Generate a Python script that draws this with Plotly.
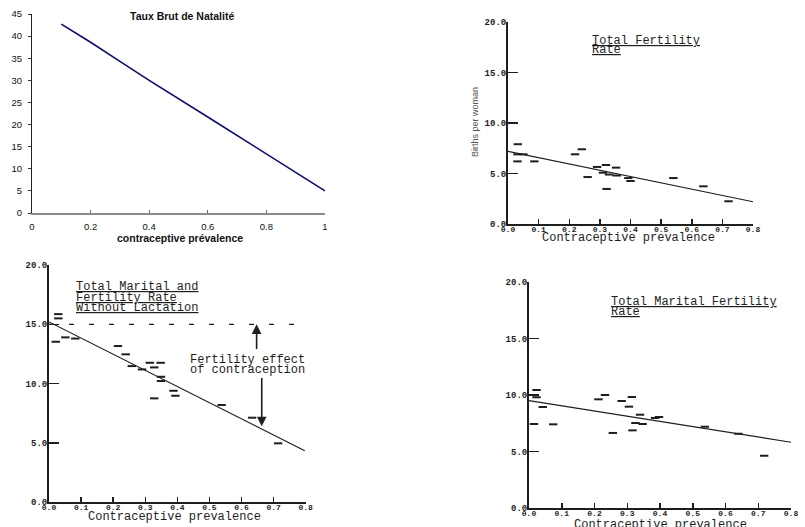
import plotly.graph_objects as go

W, H = 805, 527

# ---------------- DATA ----------------
# Top-left: Taux Brut de Natalité (line)
tbn_prevalence = [0.1, 0.2, 0.3, 0.4, 0.6, 0.8, 1.0]
tbn_rate = [42.7, 38.6, 34.3, 30.0, 21.7, 13.4, 5.0]

# Top-right: Total Fertility Rate
tfr_prev = [0.032, 0.031, 0.05, 0.031, 0.086, 0.219, 0.241, 0.26, 0.291, 0.32,
            0.31, 0.33, 0.353, 0.355, 0.322, 0.393, 0.40, 0.54, 0.638, 0.72]
tfr_val = [7.9, 6.9, 6.9, 6.2, 6.2, 6.9, 7.4, 4.65, 5.65, 5.84,
           5.08, 4.9, 5.58, 4.8, 3.47, 4.55, 4.26, 4.55, 3.73, 2.25]
tfr_fit_x = [0.0, 0.8]
tfr_fit_y = [7.2, 2.2]

# Bottom-left: Total Marital Fertility Rate without lactation
tmfl_prev = [0.029, 0.029, 0.021, 0.051, 0.082, 0.215, 0.239, 0.258, 0.29, 0.314,
             0.328, 0.348, 0.349, 0.349, 0.328, 0.388, 0.394, 0.538, 0.633, 0.714]
tmfl_val = [15.86, 15.5, 13.53, 13.9, 13.8, 13.17, 12.47, 11.48, 11.2, 11.76,
            11.37, 11.76, 10.58, 10.22, 8.76, 9.4, 8.98, 8.2, 7.13, 4.97]
tmfl_fit_x = [0.0, 0.797]
tmfl_fit_y = [15.2, 4.35]
tmfl_ref_x = [0.0, 0.78]
tmfl_ref_y = [15.0, 15.0]
effect_x = 0.655
effect_top = 15.0
effect_bottom = 6.4

# Bottom-right: Total Marital Fertility Rate
tmf_prev = [0.023, 0.023, 0.042, 0.015, 0.074, 0.212, 0.232, 0.256, 0.283, 0.314,
            0.305, 0.339, 0.325, 0.347, 0.316, 0.385, 0.397, 0.537, 0.639, 0.718]
tmf_val = [10.44, 9.8, 8.94, 7.44, 7.41, 9.62, 10.0, 6.65, 9.47, 9.82,
           8.97, 8.26, 7.53, 7.44, 6.88, 7.97, 8.06, 7.2, 6.58, 4.64]
tmf_fit_x = [0.0, 0.8]
tmf_fit_y = [9.5, 5.83]

scan_xticks = [0.0, 0.1, 0.2, 0.3, 0.4, 0.5, 0.6, 0.7, 0.8]
scan_xtext = ["0.0", "0.1", "0.2", "0.3", "0.4", "0.5", "0.6", "0.7", "0.8"]
scan_yticks = [0, 5, 10, 15, 20]
scan_ytext = ["0.0", "5.0", "10.0", "15.0", "20.0"]

tl_xticks = [0, 0.2, 0.4, 0.6, 0.8, 1.0]
tl_xtext = ["0", "0.2", "0.4", "0.6", "0.8", "1"]

# ---------------- LAYOUT HELPERS ----------------
def dx(p0, p1):
    return [p0 / W, p1 / W]

def dy(pb, pt):
    return [1 - pb / H, 1 - pt / H]

def px(x):
    return x / W

def py(y):
    return 1 - y / H

INK = "#1e1e1e"
MONO = "Liberation Mono, DejaVu Sans Mono, monospace"
SANS = "Arial, Liberation Sans, sans-serif"
marker_h = dict(symbol="line-ew", size=6, line=dict(color=INK, width=2))

fig = go.Figure()

# Top-left
fig.add_trace(go.Scatter(x=tbn_prevalence, y=tbn_rate, mode="lines",
                         line=dict(color="#0a0a80", width=1.6),
                         xaxis="x", yaxis="y", hoverinfo="skip"))
# Top-right
fig.add_trace(go.Scatter(x=tfr_fit_x, y=tfr_fit_y, mode="lines",
                         line=dict(color=INK, width=1.2), xaxis="x2", yaxis="y2"))
fig.add_trace(go.Scatter(x=tfr_prev, y=tfr_val, mode="markers", marker=marker_h,
                         xaxis="x2", yaxis="y2", cliponaxis=False))
# Bottom-left
fig.add_trace(go.Scatter(x=tmfl_ref_x, y=tmfl_ref_y, mode="lines",
                         line=dict(color=INK, width=1.2, dash="5px,15px"),
                         xaxis="x3", yaxis="y3"))
fig.add_trace(go.Scatter(x=tmfl_fit_x, y=tmfl_fit_y, mode="lines",
                         line=dict(color=INK, width=1.2), xaxis="x3", yaxis="y3"))
fig.add_trace(go.Scatter(x=tmfl_prev, y=tmfl_val, mode="markers", marker=marker_h,
                         xaxis="x3", yaxis="y3", cliponaxis=False))
# Bottom-right
fig.add_trace(go.Scatter(x=tmf_fit_x, y=tmf_fit_y, mode="lines",
                         line=dict(color=INK, width=1.2), xaxis="x4", yaxis="y4"))
fig.add_trace(go.Scatter(x=tmf_prev, y=tmf_val, mode="markers", marker=marker_h,
                         xaxis="x4", yaxis="y4", cliponaxis=False))

tl_font = dict(family=SANS, size=9.5, color="#111")
scan_xtick_font = dict(family=MONO, size=8, color=INK, weight="bold")
scan_ytick_font = dict(family=MONO, size=9, color=INK, weight="bold")

def scan_x(domain, anchor):
    return dict(domain=domain, anchor=anchor, range=[0, 0.8], tickmode="array",
                tickvals=scan_xticks, ticktext=scan_xtext, ticks="inside", ticklen=5,
                tickwidth=1.5, tickcolor=INK, showline=True, linecolor=INK, linewidth=1.5,
                showgrid=False, zeroline=False, tickfont=scan_xtick_font, tickangle=0,
                automargin=False, ticklabelstandoff=-3)

def scan_y(domain, anchor):
    return dict(domain=domain, anchor=anchor, range=[0, 20], tickmode="array",
                tickvals=scan_yticks, ticktext=scan_ytext, ticks="inside", ticklen=10,
                tickwidth=1.5, tickcolor=INK, showline=True, linecolor=INK, linewidth=2,
                showgrid=False, zeroline=False, tickfont=scan_ytick_font,
                automargin=False, ticklabelstandoff=-2)

fig.update_layout(
    template="none",
    width=W, height=H, margin=dict(l=0, r=0, t=0, b=0, pad=0, autoexpand=False),
    paper_bgcolor="white", plot_bgcolor="rgba(0,0,0,0)", showlegend=False,
    hovermode=False,
    xaxis=dict(domain=dx(32, 325), anchor="y", range=[0, 1], tickmode="array",
               tickvals=tl_xticks, ticktext=tl_xtext, ticks="inside", ticklen=3,
               tickcolor="#666", showline=True, linecolor="#8a8a8a", linewidth=2,
               showgrid=False, zeroline=False, tickfont=tl_font, automargin=False,
               ticklabelstandoff=4),
    yaxis=dict(domain=dy(213, 14), anchor="x", range=[0, 45], dtick=5,
               ticks="outside", ticklen=3, tickcolor="#333", showline=True,
               linecolor="#222", linewidth=1, showgrid=False, zeroline=False,
               tickfont=tl_font, automargin=False, ticklabelstandoff=4),
    xaxis2=scan_x(dx(508, 753), "y2"),
    yaxis2=scan_y(dy(224, 22), "x2"),
    xaxis3=scan_x(dx(49, 305.7), "y3"),
    yaxis3=scan_y(dy(502.3, 265), "x3"),
    xaxis4=scan_x(dx(529, 791), "y4"),
    yaxis4=scan_y(dy(508.3, 281.7), "x4"),
)

ann = []
def text(t, x, y, font, xanchor="center", yanchor="middle", angle=0):
    ann.append(dict(text=t, x=px(x), y=py(y), xref="paper", yref="paper",
                    showarrow=False, font=font, xanchor=xanchor, yanchor=yanchor,
                    textangle=angle))

title_font = dict(family=MONO, size=12, color=INK)
label_font = dict(family=MONO, size=12, color=INK)
tl_title_font = dict(family=SANS, size=10.5, color="#111")

# Top-left texts
text("<b>Taux Brut de Natalité</b>", 182, 16, tl_title_font)
text("<b>contraceptive prévalence</b>", 180, 238, tl_title_font)

# Top-right texts
text("<u>Total Fertility</u>", 590, 41, title_font, xanchor="left")
text("<u>Rate</u>", 590, 50, title_font, xanchor="left")
text("Births per woman", 475, 122, dict(family=SANS, size=9, color="#555"), angle=-90)
text("Contraceptive prevalence", 628, 238, label_font)

# Bottom-left texts
text("<u>Total Marital and</u>", 74, 286.5, title_font, xanchor="left")
text("<u>Fertility Rate</u>", 74, 297.5, title_font, xanchor="left")
text("<u>Without Lactation</u>", 74, 308, title_font, xanchor="left")
text("Fertility effect", 188, 360, title_font, xanchor="left")
text("of contraception", 188, 370, title_font, xanchor="left")
text("Contraceptive prevalence", 174, 517, label_font)

# Bottom-right texts
text("<u>Total Marital Fertility</u>", 609, 301.5, title_font, xanchor="left")
text("<u>Rate</u>", 609, 311.5, title_font, xanchor="left")
text("Contraceptive prevalence", 660, 525, label_font)

# Arrows for the fertility effect of contraception
ann.append(dict(x=effect_x - 0.008, y=effect_top, ax=effect_x - 0.008, ay=12.8,
                xref="x3", yref="y3", axref="x3", ayref="y3", showarrow=True,
                arrowhead=2, arrowsize=1.2, arrowwidth=1.6, arrowcolor=INK, text=""))
ann.append(dict(x=effect_x + 0.008, y=effect_bottom, ax=effect_x + 0.008, ay=10.6,
                xref="x3", yref="y3", axref="x3", ayref="y3", showarrow=True,
                arrowhead=2, arrowsize=1.2, arrowwidth=1.6, arrowcolor=INK, text=""))

fig.update_layout(annotations=ann)
fig.write_html("out.html",
               config={"displayModeBar": False, "staticPlot": True},
               post_script="document.body.style.margin='0';document.body.style.overflow='hidden';")
